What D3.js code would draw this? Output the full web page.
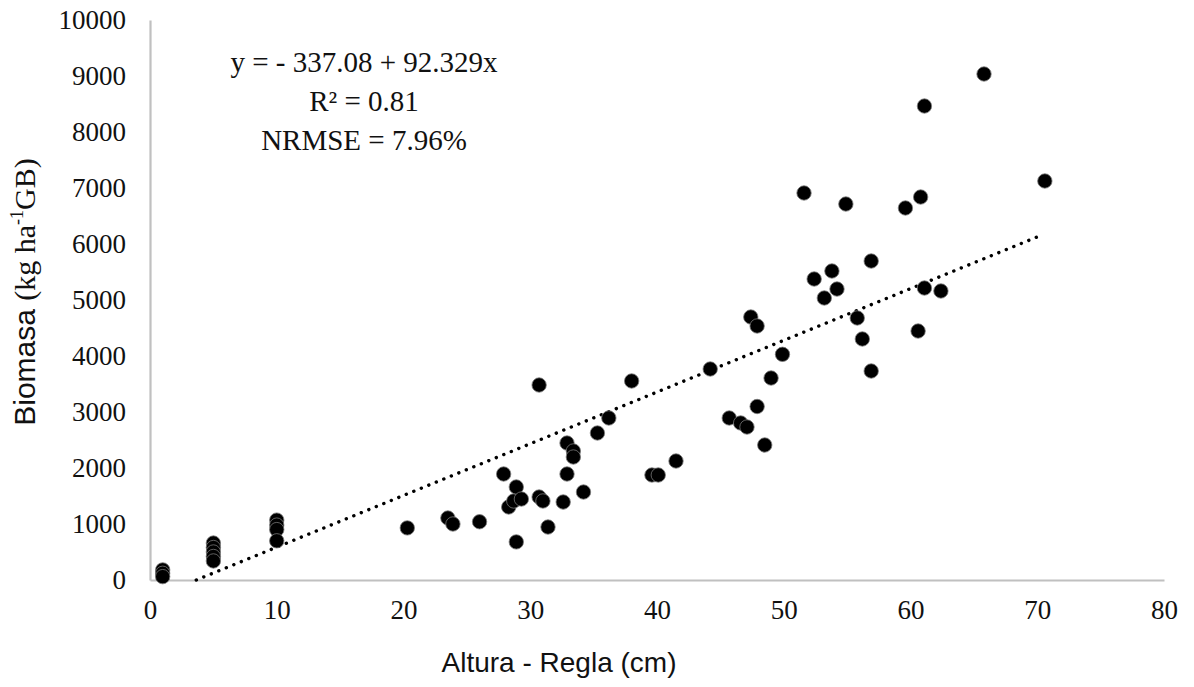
<!DOCTYPE html>
<html>
<head>
<meta charset="utf-8">
<script src="https://cdn.jsdelivr.net/npm/d3@7"></script>
<style>
    body { margin: 0; background: #fff; }
    .tick text { font-family: "Liberation Serif", serif; font-size: 27px; fill: #111; }
    .label { font-family: "Liberation Sans", Arial, sans-serif; font-size: 28px; fill: #111; }
    .eq { font-family: "Liberation Serif", serif; font-size: 29px; fill: #111; }
</style>
</head>
<body>
<svg id="graphSVG" width="1194" height="687"></svg>
<script>
// Altura de regla (cm) y biomasa (kg/ha)
const altura = [1, 1, 1, 5, 5, 5, 5, 5, 10, 10, 10, 10,
    20.3, 23.5, 23.9, 26.0, 27.9, 28.3, 28.7, 28.9, 28.9, 29.3,
    30.7, 30.7, 31.0, 31.4, 32.6, 32.9, 32.9, 33.4, 33.4, 34.2,
    35.3, 36.2, 38.0, 39.6, 40.1, 41.5, 44.2, 45.7, 46.6, 47.1,
    47.4, 47.9, 47.9, 48.5, 49.0, 49.9, 51.6, 52.4, 53.2, 53.8,
    54.2, 54.9, 55.8, 56.2, 56.9, 56.9, 59.6, 60.6, 60.8, 61.1,
    61.1, 62.4, 65.8, 70.6];
const biomasa = [180, 120, 60, 660, 580, 500, 420, 340, 1070, 980, 900, 700,
    930, 1107, 1000, 1040, 1893, 1304, 1411, 1661, 680, 1446,
    3482, 1482, 1411, 946, 1393, 2446, 1893, 2304, 2196, 1571,
    2625, 2893, 3554, 1875, 1875, 2125, 3768, 2893, 2804, 2732,
    4696, 4536, 3098, 2411, 3607, 4030, 6911, 5375, 5036, 5518,
    5196, 6714, 4679, 4304, 5696, 3732, 6643, 4446, 6839, 8464,
    5214, 5161, 9036, 7125];

const xTicks = [0, 10, 20, 30, 40, 50, 60, 70, 80];
const yTicks = [0, 1000, 2000, 3000, 4000, 5000, 6000, 7000, 8000, 9000, 10000];

// regresion
const intercept = -337.08;
const slope = 92.329;
const eqLines = ["y = - 337.08 + 92.329x", "R² = 0.81", "NRMSE = 7.96%"];

const svg = d3.select('svg');

const xScale = d3.scaleLinear().domain([0, 80]).range([150, 1164]);
const yScale = d3.scaleLinear().domain([0, 10000]).range([580, 20]);

// x axis
const xAxis = svg.append('g')
    .attr('transform', `translate(0, ${yScale(0)})`)
    .call(d3.axisBottom(xScale).tickValues(xTicks).tickFormat(d3.format('d')).tickSize(0).tickPadding(20));
xAxis.select('.domain').attr('stroke', '#c0c0c0').attr('stroke-width', 2.2);

// y axis
const yAxis = svg.append('g')
    .attr('transform', `translate(${xScale(0)}, 0)`)
    .call(d3.axisLeft(yScale).tickValues(yTicks).tickFormat(d3.format('d')).tickSize(0).tickPadding(24));
yAxis.select('.domain').attr('stroke', '#c0c0c0').attr('stroke-width', 2.2);

// trend line from y = 0 to the last point
const x0 = -intercept / slope;
const x1 = d3.max(altura) - 0.1;
svg.append('line')
    .attr('x1', xScale(x0))
    .attr('y1', yScale(0))
    .attr('x2', xScale(x1))
    .attr('y2', yScale(intercept + slope * x1))
    .attr('stroke', '#000')
    .attr('stroke-width', 3.4)
    .attr('stroke-linecap', 'round')
    .attr('stroke-dasharray', '0.1,8');

// points
svg.append('g')
    .selectAll('circle')
    .data(altura)
    .enter()
    .append('circle')
    .attr('cx', (d) => xScale(d))
    .attr('cy', (d, i) => yScale(biomasa[i]))
    .attr('r', 7.2)
    .attr('fill', '#000')
    .attr('stroke', '#777')
    .attr('stroke-width', 0.8);

// equation
svg.append('g')
    .selectAll('text')
    .data(eqLines)
    .enter()
    .append('text')
    .attr('class', 'eq')
    .attr('x', 364)
    .attr('y', (d, i) => 72 + i * 39)
    .attr('text-anchor', 'middle')
    .text((d) => d);

// axis titles
svg.append('text')
    .attr('class', 'label')
    .attr('x', 559)
    .attr('y', 672)
    .attr('text-anchor', 'middle')
    .text('Altura - Regla (cm)');

const yTitle = svg.append('text')
    .attr('transform', 'translate(35, 292) rotate(-90)')
    .attr('text-anchor', 'middle');
yTitle.append('tspan').attr('class', 'label').style('font-size', '30px').text('Biomasa ');
yTitle.append('tspan').attr('class', 'eq').style('font-size', '30px').text('(kg ha');
yTitle.append('tspan').attr('class', 'eq').style('font-size', '18px').attr('dy', -12).text('-1');
yTitle.append('tspan').attr('class', 'eq').style('font-size', '30px').attr('dy', 12).text('GB)');
</script>
</body>
</html>
